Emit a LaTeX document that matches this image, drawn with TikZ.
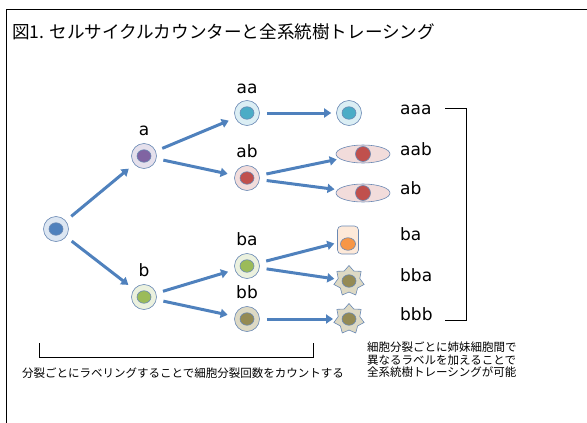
\documentclass[tikz,border=0pt]{standalone}
\usepackage{fontspec}
\newfontfamily\jpfont{Noto Sans CJK JP}
\newfontfamily\tagfont{DejaVu Sans}
\usetikzlibrary{arrows.meta,positioning,shapes.geometric}

\definecolor{flowblue}{HTML}{4F81BD}
\definecolor{rim}{HTML}{6A89B4}
\definecolor{rootfill}{HTML}{DCE6F2}
\definecolor{rootcore}{HTML}{4F81BD}
\definecolor{purplefill}{HTML}{E5E0EC}
\definecolor{purplecore}{HTML}{8064A2}
\definecolor{cyanfill}{HTML}{DBEEF4}
\definecolor{cyancore}{HTML}{4BACC6}
\definecolor{redfill}{HTML}{F2DCDB}
\definecolor{redcore}{HTML}{C0504D}
\definecolor{greenfill}{HTML}{EBF1DE}
\definecolor{greencore}{HTML}{9BBB59}
\definecolor{tanfill}{HTML}{DDD9C4}
\definecolor{tancore}{HTML}{948A54}
\definecolor{orangefill}{HTML}{FDE9D9}
\definecolor{orangecore}{HTML}{F79646}

\begin{document}
\begin{tikzpicture}[x=1pt,y=-1pt,>={Triangle[length=7pt,width=9pt]},
  flow/.style={->,draw=flowblue,line width=3pt,shorten >=7pt,shorten <=7pt},
  cell/.style={circle,draw=rim,line width=0.6pt,minimum size=25pt,inner sep=0pt},
  nucleus/.style={ellipse,draw=rim,line width=0.6pt,minimum width=14pt,
    minimum height=12.5pt,inner sep=0pt},
  flat cell/.style={ellipse,draw=rim,line width=0.6pt,fill=redfill,
    minimum width=54pt,minimum height=18pt,inner sep=0pt},
  spiky cell/.style={star,star points=7,star point ratio=1.4,draw=rim,
    line width=0.6pt,fill=tanfill,minimum size=31pt,inner sep=0pt},
  tag/.style={font=\tagfont\fontsize{17}{17}\selectfont,inner sep=0pt,text depth=0pt},
  note/.style={font=\jpfont\fontsize{11.5}{12.5}\selectfont,inner sep=0pt}]

  \useasboundingbox (0,0) rectangle (587,423);
  \draw[line width=1.8pt] (6.5,423) -- (6.5,9.5) -- (587,9.5);

  \node[anchor=west,inner sep=0pt,font=\jpfont\fontsize{17.6}{17.6}\selectfont] (title)
    at (12,32) {図1. セルサイクルカウンターと全系統樹トレーシング};

  % division tree
  \node[cell,fill=rootfill] (root) at (56,229) {};
  \node[nucleus,fill=rootcore] (root-n) at (root) {};
  \node[cell,fill=purplefill] (a) at (144,156) {};
  \node[nucleus,fill=purplecore] (a-n) at (a) {};
  \node[cell,fill=greenfill] (b) at (144,297) {};
  \node[nucleus,fill=greencore] (b-n) at (b) {};
  \node[cell,fill=cyanfill] (aa) at (247,113) {};
  \node[nucleus,fill=cyancore] (aa-n) at (aa) {};
  \node[cell,fill=redfill] (ab) at (247,178) {};
  \node[nucleus,fill=redcore] (ab-n) at (ab) {};
  \node[cell,fill=greenfill] (ba) at (247,266) {};
  \node[nucleus,fill=greencore] (ba-n) at (ba) {};
  \node[cell,fill=tanfill] (bb) at (247,319) {};
  \node[nucleus,fill=tancore] (bb-n) at (bb) {};

  \node[tag,above=8pt of a] (a-tag) {a};
  \node[tag,above=8pt of b] (b-tag) {b};
  \node[tag,above=7pt of aa] (aa-tag) {aa};
  \node[tag,above=8pt of ab] (ab-tag) {ab};
  \node[tag,above=8pt of ba] (ba-tag) {ba};
  \node[tag,above=8pt of bb] (bb-tag) {bb};

  % third generation
  \node[cell,fill=cyanfill] (aaa) at (349,113) {};
  \node[nucleus,fill=cyancore] (aaa-n) at (aaa) {};
  \node[flat cell] (aab) at (363,154) {};
  \node[circle,draw=rim,line width=0.6pt,fill=redcore,minimum size=15pt,inner sep=0pt]
    (aab-n) at (aab) {};
  \node[flat cell] (ab2) at (363,193) {};
  \node[circle,draw=rim,line width=0.6pt,fill=redcore,minimum size=15pt,inner sep=0pt]
    (ab2-n) at (ab2) {};
  \node[rectangle,rounded corners=4pt,draw=rim,line width=0.6pt,fill=orangefill,
    minimum width=21pt,minimum height=28pt,inner sep=0pt] (ba2) at (348,240) {};
  \node[nucleus,fill=orangecore,minimum width=15pt] (ba2-n) at (348,244) {};
  \node[spiky cell] (bba) at (349,281) {};
  \node[nucleus,fill=tancore] (bba-n) at (bba) {};
  \node[spiky cell] (bbb) at (349,319) {};
  \node[nucleus,fill=tancore] (bbb-n) at (bbb) {};

  \node[tag,anchor=mid west] (aaa-tag) at (400,112) {aaa};
  \node[tag,anchor=mid west] (aab-tag) at (400,153) {aab};
  \node[tag,anchor=mid west] (ab2-tag) at (400,192) {ab};
  \node[tag,anchor=mid west] (ba2-tag) at (400,238) {ba};
  \node[tag,anchor=mid west] (bba-tag) at (400,279) {bba};
  \node[tag,anchor=mid west] (bbb-tag) at (400,318) {bbb};

  \draw[flow] (root) -- (a);
  \draw[flow] (root) -- (b);
  \draw[flow] (a) -- (aa);
  \draw[flow] (a) -- (ab);
  \draw[flow] (b) -- (ba);
  \draw[flow] (b) -- (bb);
  \draw[flow,shorten >=5pt] (aa) -- (aaa);
  \draw[flow,shorten >=3pt] (ab) -- (aab);
  \draw[flow,shorten >=3pt] (ab) -- (ab2);
  \draw[flow,shorten >=3pt] (ba) -- (ba2);
  \draw[flow,shorten >=3pt] (ba) -- (bba);
  \draw[flow,shorten >=3pt] (bb) -- (bbb);

  % brackets
  \draw[line width=0.8pt] (445,108) -- (466,108) -- (466,320) -- (445,320);
  \draw[line width=0.8pt] (39,343) -- (39,357) -- (313,357) -- (313,343);

  \node[note] (count) at (183,373) {分裂ごとにラベリングすることで細胞分裂回数をカウントする};
  \node[note,anchor=west,align=left] (trace) at (367,360)
    {細胞分裂ごとに姉妹細胞間で\\異なるラベルを加えることで\\全系統樹トレーシングが可能};
\end{tikzpicture}
\end{document}
